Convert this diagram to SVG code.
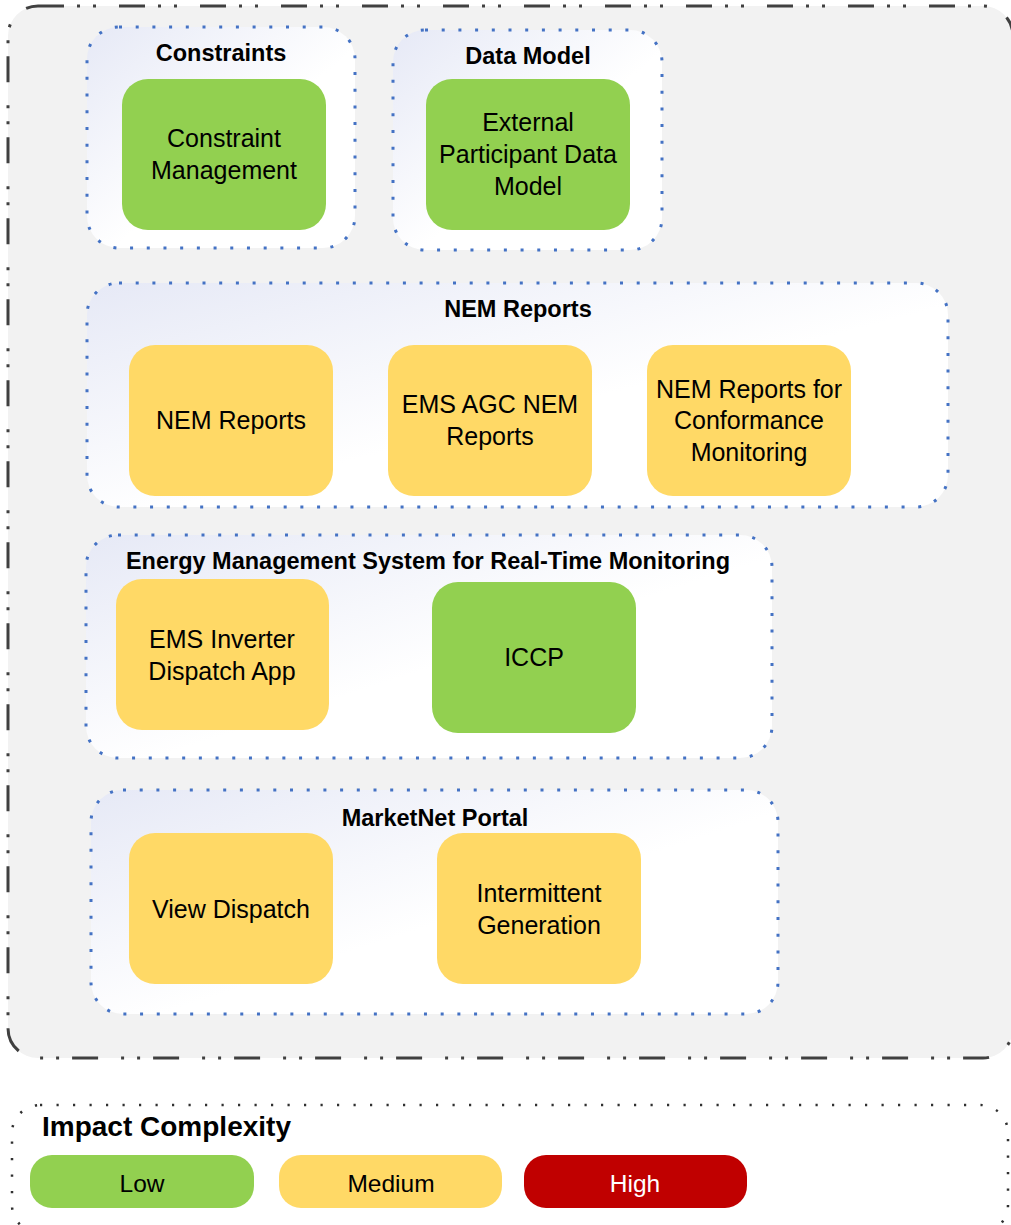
<svg xmlns="http://www.w3.org/2000/svg" width="1011" height="1225" viewBox="0 0 1011 1225">
<defs>
<linearGradient id="grp" x1="0" y1="0" x2="1" y2="1">
<stop offset="0" stop-color="#e6e9f6"/>
<stop offset="0.55" stop-color="#ffffff"/>
<stop offset="1" stop-color="#ffffff"/>
</linearGradient>
</defs>
<style>
.outer{fill:#f2f2f2;stroke:#404040;stroke-width:3;stroke-dasharray:26 13 3 13 3 23}
.legend{fill:#ffffff;stroke:#303030;stroke-width:2.5;stroke-dasharray:2.2 14.3}
.grp{fill:url(#grp);stroke:#4472c4;stroke-width:3;stroke-dasharray:3 13.7}
.low{fill:#92d050}
.med{fill:#ffd966}
.high{fill:#c00000}
.t{font-family:"Liberation Sans",Arial,sans-serif;font-size:25px;fill:#000;text-anchor:middle}
.h{font-family:"Liberation Sans",Arial,sans-serif;font-size:23.5px;font-weight:bold;fill:#000;text-anchor:middle}
.lt{font-family:"Liberation Sans",Arial,sans-serif;font-size:24.5px;fill:#000;text-anchor:middle}
</style>
<rect class="outer" x="8" y="6" width="1005" height="1052" rx="30"/>
<g id="grp-constraints">
<rect class="grp" x="87" y="27" width="268" height="221" rx="32"/>
<text class="h" x="221" y="61">Constraints</text>
</g>
<g id="grp-datamodel">
<rect class="grp" x="393" y="30" width="269" height="220" rx="32"/>
<text class="h" x="528" y="64">Data Model</text>
</g>
<g id="grp-nemreports">
<rect class="grp" x="87" y="283" width="861" height="224" rx="32"/>
<text class="h" x="518" y="317">NEM Reports</text>
</g>
<g id="grp-ems">
<rect class="grp" x="86" y="535" width="686" height="223" rx="32"/>
<text class="h" x="428" y="569">Energy Management System for Real-Time Monitoring</text>
</g>
<g id="grp-marketnet">
<rect class="grp" x="91" y="790" width="687" height="224" rx="32"/>
<text class="h" x="435" y="826">MarketNet Portal</text>
</g>
<g id="node-constraint-mgmt">
<rect class="low" x="122" y="79" width="204" height="151" rx="26"/>
<text class="t" x="224" y="147">Constraint</text>
<text class="t" x="224" y="179">Management</text>
</g>
<g id="node-ext-participant">
<rect class="low" x="426" y="79" width="204" height="151" rx="26"/>
<text class="t" x="528" y="131">External</text>
<text class="t" x="528" y="163">Participant Data</text>
<text class="t" x="528" y="195">Model</text>
</g>
<g id="node-nem-reports">
<rect class="med" x="129" y="345" width="204" height="151" rx="26"/>
<text class="t" x="231" y="429">NEM Reports</text>
</g>
<g id="node-ems-agc">
<rect class="med" x="388" y="345" width="204" height="151" rx="26"/>
<text class="t" x="490" y="413">EMS AGC NEM</text>
<text class="t" x="490" y="445">Reports</text>
</g>
<g id="node-nem-conformance">
<rect class="med" x="647" y="345" width="204" height="151" rx="26"/>
<text class="t" x="749" y="398">NEM Reports for</text>
<text class="t" x="749" y="429">Conformance</text>
<text class="t" x="749" y="461">Monitoring</text>
</g>
<g id="node-ems-inverter">
<rect class="med" x="116" y="579" width="213" height="151" rx="26"/>
<text class="t" x="222" y="648">EMS Inverter</text>
<text class="t" x="222" y="680">Dispatch App</text>
</g>
<g id="node-iccp">
<rect class="low" x="432" y="582" width="204" height="151" rx="26"/>
<text class="t" x="534" y="666">ICCP</text>
</g>
<g id="node-view-dispatch">
<rect class="med" x="129" y="833" width="204" height="151" rx="26"/>
<text class="t" x="231" y="918">View Dispatch</text>
</g>
<g id="node-intermittent">
<rect class="med" x="437" y="833" width="204" height="151" rx="26"/>
<text class="t" x="539" y="902">Intermittent</text>
<text class="t" x="539" y="934">Generation</text>
</g>
<g id="connectors"></g>
<g id="legend">
<rect class="legend" x="12" y="1105" width="996" height="128" rx="28"/>
<text x="42" y="1136" font-family="Liberation Sans, Arial, sans-serif" font-size="28" font-weight="bold" fill="#000">Impact Complexity</text>
<g id="legend-low">
<rect class="low" x="30" y="1155" width="224" height="53" rx="22"/>
<text class="lt" x="142" y="1192">Low</text>
</g>
<g id="legend-medium">
<rect class="med" x="279" y="1155" width="223" height="53" rx="22"/>
<text class="lt" x="391" y="1192">Medium</text>
</g>
<g id="legend-high">
<rect class="high" x="524" y="1155" width="223" height="53" rx="22"/>
<text class="lt" x="635" y="1192" style="fill:#fff">High</text>
</g>
</g>
</svg>
